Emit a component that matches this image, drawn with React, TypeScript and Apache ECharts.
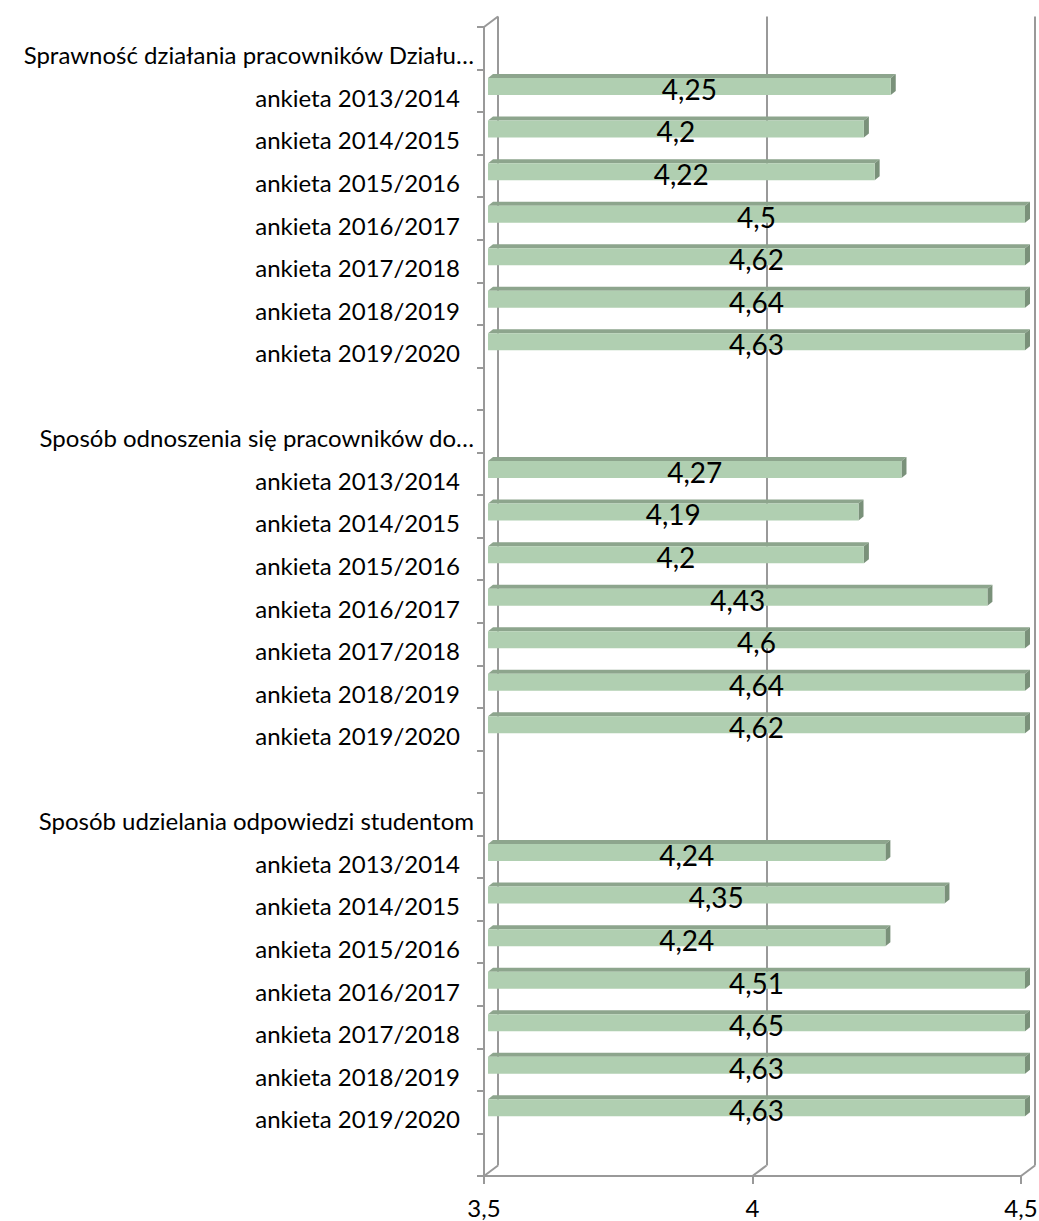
import React, { useEffect, useRef } from "react";
import * as echarts from "echarts";

const groupTitles = [
  "Sprawność działania pracowników Działu…",
  "Sposób odnoszenia się pracowników do…",
  "Sposób udzielania odpowiedzi studentom",
];
const years = [
  "ankieta 2013/2014",
  "ankieta 2014/2015",
  "ankieta 2015/2016",
  "ankieta 2016/2017",
  "ankieta 2017/2018",
  "ankieta 2018/2019",
  "ankieta 2019/2020",
];
const valuesGroup1 = [4.25, 4.2, 4.22, 4.5, 4.62, 4.64, 4.63];
const valuesGroup2 = [4.27, 4.19, 4.2, 4.43, 4.6, 4.64, 4.62];
const valuesGroup3 = [4.24, 4.35, 4.24, 4.51, 4.65, 4.63, 4.63];
const xTicks = [3.5, 4, 4.5];

const AXIS_MIN = 3.5;
const AXIS_MAX = 4.5;

export default function App() {
  const ref = useRef<HTMLDivElement>(null);

  useEffect(() => {
    document.body.style.margin = "0";
    if (!ref.current) return;
    const chart = echarts.init(ref.current, undefined, { renderer: "svg" });

    const groups = [valuesGroup1, valuesGroup2, valuesGroup3];
    const categories: string[] = [];
    const headerIdx = new Set<number>();
    const barData: any[] = [];
    groups.forEach((vals, g) => {
      headerIdx.add(categories.length);
      categories.push(groupTitles[g]);
      vals.forEach((v, i) => {
        barData.push([v, categories.length]);
        categories.push(years[i]);
      });
      categories.push("");
    });

    const lineColor = "#999999";
    const DX = 14;
    const DY = -10.5;
    const labelFont = 24;

    const option: any = {
      animation: false,
      backgroundColor: "#ffffff",
      textStyle: { fontFamily: "Lato" },
      grid: [
        { left: 484, right: 18, top: 27, bottom: 45, outerBoundsMode: "none", containLabel: false },
        { left: 484 + DX, right: 18 - DX, top: 27 + DY, bottom: 45 - DY, outerBoundsMode: "none", containLabel: false },
      ],
      xAxis: [
        {
          type: "value",
          gridIndex: 0,
          min: AXIS_MIN,
          max: AXIS_MAX,
          interval: 0.5,
          axisLine: { show: true, lineStyle: { color: lineColor, width: 2 } },
          axisTick: { show: true, length: 8, lineStyle: { color: lineColor, width: 2 } },
          splitLine: { show: false },
          axisLabel: {
            margin: 19,
            fontSize: labelFont,
            fontFamily: "Lato",
            color: "#000",
            formatter: (v: number) => String(v).replace(".", ","),
          },
        },
        {
          type: "value",
          gridIndex: 1,
          min: AXIS_MIN,
          max: AXIS_MAX,
          interval: 0.5,
          axisLine: { show: false },
          axisTick: { show: false },
          axisLabel: { show: false },
          splitLine: { show: true, lineStyle: { color: lineColor, width: 2 } },
        },
      ],
      yAxis: [
        {
          type: "category",
          gridIndex: 0,
          inverse: true,
          data: categories,
          axisLine: { show: true, lineStyle: { color: lineColor, width: 2 } },
          axisTick: { show: true, length: 7, lineStyle: { color: lineColor, width: 2 } },
          axisLabel: {
            interval: 0,
            margin: 10,
            padding: [13, 0, 0, 0],
            color: "#000",
            fontSize: labelFont,
            fontFamily: "Lato",
            formatter: (val: string, idx: number) => {
              if (!val) return "";
              return headerIdx.has(idx) ? `{h|${val}}` : `{a|${val}}`;
            },
            rich: {
              h: { fontSize: labelFont, fontFamily: "Lato", color: "#000" },
              a: { fontSize: labelFont, fontFamily: "Lato", color: "#000", padding: [0, 14, 0, 0] },
            },
          },
          splitLine: { show: false },
        },
        {
          type: "category",
          gridIndex: 1,
          inverse: true,
          data: categories,
          show: false,
        },
      ],
      series: [
        {
          type: "custom",
          name: "frame",
          xAxisIndex: 0,
          yAxisIndex: 0,
          clip: false,
          silent: true,
          data: xTicks.map((v) => [v, 0]),
          renderItem: (params: any, api: any) => {
            const cs = params.coordSys;
            const x = api.coord([api.value(0), 0])[0];
            const bottom = cs.y + cs.height;
            const children: any[] = [
              {
                type: "line",
                shape: { x1: x, y1: bottom, x2: x + DX, y2: bottom + DY },
                style: { stroke: lineColor, lineWidth: 2 },
              },
            ];
            if (params.dataIndex === 0) {
              children.push({
                type: "line",
                shape: { x1: x, y1: cs.y, x2: x + DX, y2: cs.y + DY },
                style: { stroke: lineColor, lineWidth: 2 },
              });
            }
            return { type: "group", children };
          },
        },
        {
          type: "custom",
          name: "bars",
          xAxisIndex: 0,
          yAxisIndex: 0,
          clip: false,
          encode: { x: 0, y: 1 },
          data: barData,
          renderItem: (params: any, api: any) => {
            const v = api.value(0);
            const idx = api.value(1);
            const shown = Math.min(v, AXIS_MAX);
            const p0 = api.coord([AXIS_MIN, idx]);
            const p1 = api.coord([shown, idx]);
            const h = 17;
            const ox = 4;
            const oy = -4.3;
            const dx = 5;
            const dy = -4;
            const x0 = p0[0] + ox;
            const x1 = p1[0] + ox;
            const top = p0[1] + oy - h / 2;
            const bot = top + h;
            return {
              type: "group",
              children: [
                {
                  type: "polygon",
                  shape: { points: [[x0, top], [x1, top], [x1 + dx, top + dy], [x0 + dx, top + dy]] },
                  style: { fill: "#8da58d" },
                },
                {
                  type: "polygon",
                  shape: { points: [[x1, top], [x1 + dx, top + dy], [x1 + dx, bot + dy], [x1, bot]] },
                  style: { fill: "#7a917a" },
                },
                {
                  type: "rect",
                  shape: { x: x0, y: top, width: x1 - x0, height: h },
                  style: { fill: "#b0cfb1" },
                },
                {
                  type: "text",
                  style: {
                    x: (x0 + x1) / 2,
                    y: p0[1] - 2,
                    text: String(v).replace(".", ","),
                    fontSize: 28,
                    fontFamily: "Lato",
                    fill: "#000",
                    align: "center",
                    verticalAlign: "middle",
                  },
                },
              ],
            };
          },
        },
      ],
    };

    chart.setOption(option);
    return () => chart.dispose();
  }, []);

  return <div ref={ref} style={{ width: 1039, height: 1221 }} />;
}
